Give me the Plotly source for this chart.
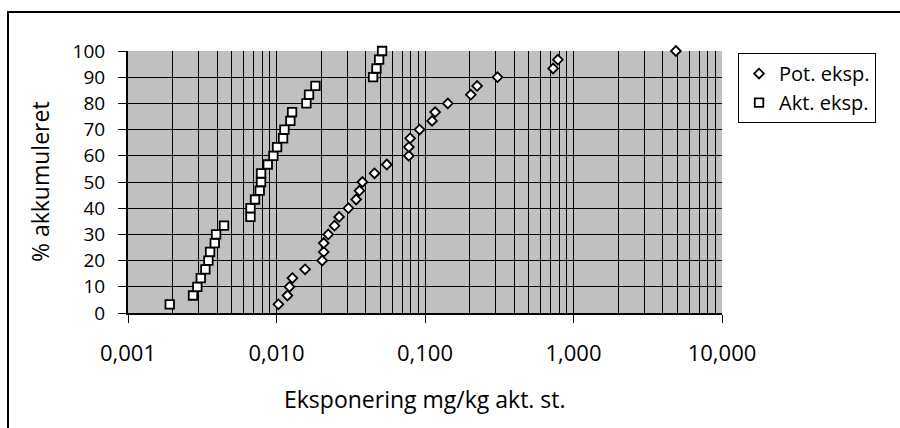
import plotly.graph_objects as go

# Cumulative percentages (30 observations each)
pct = [round(100 * (i + 1) / 30, 2) for i in range(30)]

pot_exp = [0.0103, 0.01185, 0.01223, 0.0128, 0.01557, 0.0203, 0.0208, 0.0208,
           0.0223, 0.0246, 0.0264, 0.0305, 0.0344, 0.0362, 0.0379, 0.0457,
           0.0553, 0.0778, 0.0778, 0.0794, 0.0919, 0.1116, 0.117, 0.1424,
           0.2035, 0.2244, 0.3078, 0.729, 0.785, 4.89]

akt_exp = [0.00191, 0.00274, 0.00293, 0.00309, 0.00332, 0.00348, 0.00357,
           0.00384, 0.00392, 0.00443, 0.00668, 0.00668, 0.00717, 0.00771,
           0.00787, 0.00787, 0.00873, 0.00953, 0.01009, 0.01107, 0.01131,
           0.0124, 0.01273, 0.0159, 0.01656, 0.01829, 0.0447, 0.0471,
           0.0491, 0.0514]

x_tickvals = [0.001, 0.01, 0.1, 1, 10]
x_ticktext = ["0,001", "0,010", "0,100", "1,000", "10,000"]
x_minor = [m * 10 ** e for e in range(-3, 1) for m in range(2, 10)]
y_tickvals = list(range(0, 101, 10))

FONT = "Open Sans"
FS_XTICK = 22
FS_YTICK = 19
FS_TITLE = 23
FS_LEG = 20

fig = go.Figure()
fig.add_trace(go.Scatter(
    x=pot_exp, y=pct, mode="markers", name="Pot. eksp.", cliponaxis=False,
    marker=dict(symbol="diamond", size=7.5, color="white",
                line=dict(color="black", width=1.8)),
))
fig.add_trace(go.Scatter(
    x=akt_exp, y=pct, mode="markers", name="Akt. eksp.", cliponaxis=False,
    marker=dict(symbol="square", size=8.5, color="white",
                line=dict(color="black", width=1.8)),
))

fig.update_layout(
    width=900, height=428,
    margin=dict(l=128, r=178, t=51, b=115),
    paper_bgcolor="white",
    plot_bgcolor="#C0C0C0",
    font=dict(family=FONT, size=FS_XTICK, color="black"),
    showlegend=True,
    legend=dict(x=1.027, y=0.992, xanchor="left", yanchor="top",
                bordercolor="black", borderwidth=1, bgcolor="white",
                font=dict(family=FONT, size=FS_LEG)),
    xaxis=dict(
        type="log", range=[-3, 1],
        tickmode="array", tickvals=x_tickvals, ticktext=x_ticktext,
        tickfont=dict(family=FONT, size=FS_XTICK),
        ticks="outside", ticklen=8, tickcolor="black", tickwidth=1,
        showgrid=True, gridcolor="black", gridwidth=1,
        minor=dict(tickmode="array", tickvals=x_minor, showgrid=True,
                   gridcolor="black", gridwidth=1, ticklen=0),
        showline=True, linecolor="black", linewidth=2,
        ticklabelstandoff=12,
        zeroline=False,
    ),
    yaxis=dict(
        range=[0, 100],
        tickmode="array", tickvals=y_tickvals,
        tickfont=dict(family=FONT, size=FS_YTICK),
        ticks="outside", ticklen=8, tickcolor="black", tickwidth=1,
        showgrid=True, gridcolor="black", gridwidth=1,
        showline=True, linecolor="black", linewidth=2,
        ticklabelstandoff=9,
        zeroline=False,
    ),
    annotations=[
        dict(text="Eksponering mg/kg akt. st.", xref="paper", yref="paper",
             x=0.5, y=-0.33, xanchor="center", yanchor="middle",
             showarrow=False, font=dict(family=FONT, size=FS_TITLE)),
        dict(text="% akkumuleret", xref="paper", yref="paper",
             x=-0.148, y=0.5, xanchor="center", yanchor="middle",
             textangle=-90, showarrow=False,
             font=dict(family=FONT, size=FS_TITLE)),
    ],
    shapes=[
        dict(type="rect", xref="paper", yref="paper",
             x0=-0.202, x1=1.32, y0=-0.5, y1=1.149,
             line=dict(color="black", width=2), layer="below"),
    ],
)

fig.write_html("out.html")
